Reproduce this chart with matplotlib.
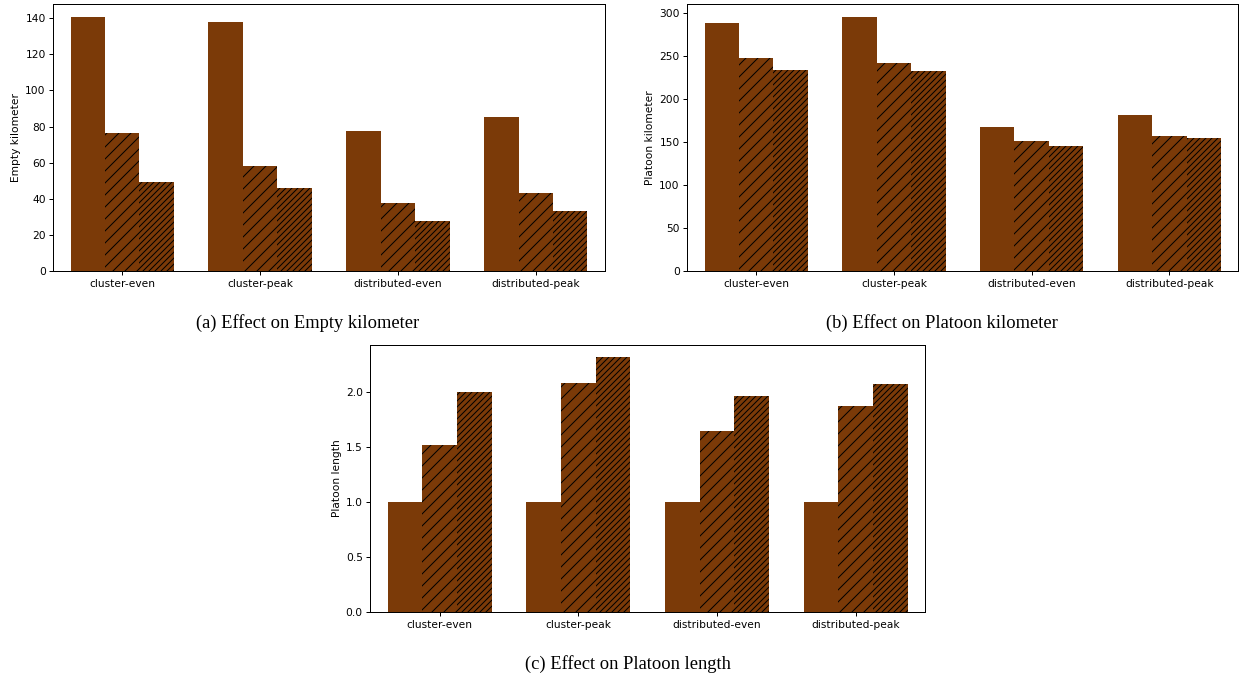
import matplotlib
matplotlib.use("Agg")
import matplotlib.pyplot as plt
import numpy as np

categories = ["cluster-even", "cluster-peak", "distributed-even", "distributed-peak"]

empty_km_1 = [140.7, 138.0, 77.6, 85.4]
empty_km_2 = [76.5, 58.4, 37.8, 43.3]
empty_km_3 = [49.2, 46.1, 28.0, 33.4]

platoon_km_1 = [288.4, 295.3, 167.6, 181.5]
platoon_km_2 = [247.7, 241.9, 151.3, 157.5]
platoon_km_3 = [233.8, 232.6, 145.5, 155.2]

platoon_len_1 = [1.0, 1.0, 1.0, 1.0]
platoon_len_2 = [1.518, 2.082, 1.648, 1.873]
platoon_len_3 = [2.003, 2.318, 1.964, 2.079]

ylabels = ["Empty kilometer", "Platoon kilometer", "Platoon length"]
captions = ["(a) Effect on Empty kilometer", "(b) Effect on Platoon kilometer",
            "(c) Effect on Platoon length"]

BROWN = "#7b3a08"
hatches = [None, "//", "////"]

plt.rcParams["hatch.linewidth"] = 1.0
plt.rcParams["axes.linewidth"] = 1.0

DPI = 72
W, H = 1242, 679
fig = plt.figure(figsize=(W / DPI, H / DPI), dpi=DPI)


def box(l, t, r, b):
    return [l / W, 1 - b / H, (r - l) / W, (b - t) / H]


axes_boxes = [box(53.3, 4.0, 604.7, 271.3),
              box(687.3, 4.0, 1238.3, 271.3),
              box(370.3, 344.7, 925.0, 612.0)]
series = [[empty_km_1, empty_km_2, empty_km_3],
          [platoon_km_1, platoon_km_2, platoon_km_3],
          [platoon_len_1, platoon_len_2, platoon_len_3]]

x = np.arange(len(categories))
width = 0.25
for bx, data, yl in zip(axes_boxes, series, ylabels):
    ax = fig.add_axes(bx)
    for i, (vals, h) in enumerate(zip(data, hatches)):
        ax.bar(x + (i - 1) * width, vals, width, color=BROWN,
               edgecolor="black", linewidth=0, hatch=h)
    ax.set_xlim(-0.5, 3.5)
    ax.set_xticks(x)
    ax.set_xticklabels(categories)
    ax.set_ylabel(yl, fontsize=10.6)
    ax.tick_params(labelsize=10.6, length=4, width=1.0)

cap_font = dict(ha="center", va="center", fontsize=18.5, family="Liberation Serif")
fig.text(308 / W, 1 - 323 / H, captions[0], **cap_font)
fig.text(941.5 / W, 1 - 323 / H, captions[1], **cap_font)
fig.text(628 / W, 1 - 664 / H, captions[2], **cap_font)

fig.savefig("out.png", dpi=DPI)
